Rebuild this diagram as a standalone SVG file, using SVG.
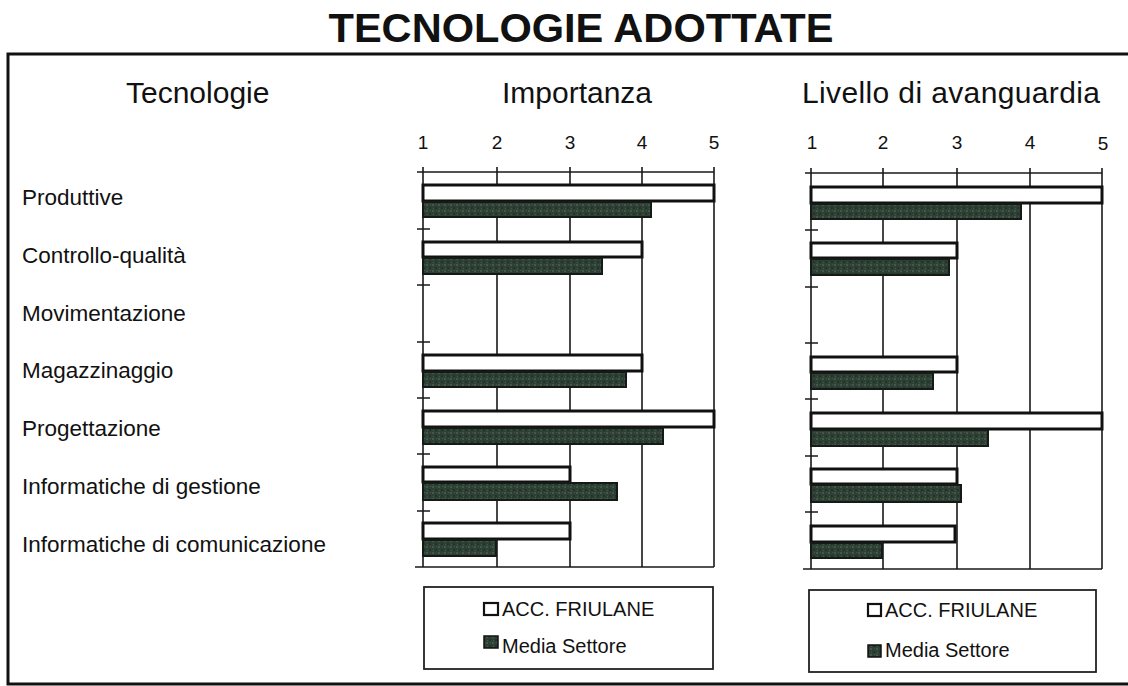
<svg xmlns="http://www.w3.org/2000/svg" width="1128" height="686" viewBox="0 0 1128 686">
<style>
text{font-family:"Liberation Sans",Arial,sans-serif;fill:#111}
.title{font-size:40px;font-weight:bold}
.hdr{font-size:30px}
.lbl{font-size:22.5px}
.num{font-size:19px;text-anchor:middle}
.leg{font-size:20px}
.grid{stroke:#1a1a1a;stroke-width:1.6;fill:none}
.wbar{fill:#fff;stroke:#111;stroke-width:3}
.dbar{fill:url(#tex);stroke:#141a16;stroke-width:2}
.box{fill:#fff;stroke:#222;stroke-width:1.8}
</style>
<defs>
<pattern id="tex" width="6" height="6" patternUnits="userSpaceOnUse">
<rect width="6" height="6" fill="#2e4034"/>
<rect x="0" y="0" width="2" height="2" fill="#44584a"/>
<rect x="3" y="3" width="2" height="2" fill="#23322a"/>
<rect x="4" y="0" width="1" height="1" fill="#56465e"/>
<rect x="1" y="4" width="1" height="1" fill="#2f6a3e"/>
</pattern>
</defs>
<rect width="1128" height="686" fill="#fff"/>
<text class="title" x="581" y="42" text-anchor="middle" textLength="505" lengthAdjust="spacingAndGlyphs">TECNOLOGIE ADOTTATE</text>
<path d="M1128,54 H8 V684 H1128" fill="none" stroke="#111" stroke-width="3"/>

<g id="headers">
<text class="hdr" x="126" y="103">Tecnologie</text>
<text class="hdr" x="577" y="103" text-anchor="middle">Importanza</text>
<text class="hdr" x="951" y="103" text-anchor="middle" textLength="298">Livello di avanguardia</text>
</g>

<g id="row-labels">
<text class="lbl" x="22" y="205">Produttive</text>
<text class="lbl" x="22" y="263">Controllo-qualità</text>
<text class="lbl" x="22" y="321">Movimentazione</text>
<text class="lbl" x="22" y="378">Magazzinaggio</text>
<text class="lbl" x="22" y="436">Progettazione</text>
<text class="lbl" x="22" y="494">Informatiche di gestione</text>
<text class="lbl" x="22" y="552">Informatiche di comunicazione</text>
</g>

<g id="chart-importanza">
<g class="axis">
<text class="num" x="423" y="149">1</text>
<text class="num" x="497" y="149">2</text>
<text class="num" x="570" y="149">3</text>
<text class="num" x="642" y="149">4</text>
<text class="num" x="714" y="149">5</text>
<path class="grid" d="M423,167 V567 M497,167 V567 M570,167 V567 M642,167 V567 M714,167 V567 M417,172 H714 M415,567 H714 M417,229 H430 M417,285 H430 M417,342 H430 M417,398 H430 M417,454 H430 M417,511 H430"/>
</g>
<g class="bars">
<rect class="wbar" x="423" y="185" width="291" height="16"/>
<rect class="dbar" x="423" y="202" width="228" height="15"/>
<rect class="wbar" x="423" y="242" width="219" height="15"/>
<rect class="dbar" x="423" y="258" width="179" height="16"/>
<rect class="wbar" x="423" y="355" width="219" height="16"/>
<rect class="dbar" x="423" y="372" width="203" height="15"/>
<rect class="wbar" x="423" y="411" width="291" height="16"/>
<rect class="dbar" x="423" y="428" width="240" height="16"/>
<rect class="wbar" x="423" y="467" width="147" height="15"/>
<rect class="dbar" x="423" y="483" width="194" height="17"/>
<rect class="wbar" x="423" y="523" width="147" height="16"/>
<rect class="dbar" x="423" y="540" width="73" height="16"/>
</g>
</g>

<g id="chart-avanguardia">
<g class="axis">
<text class="num" x="812" y="149">1</text>
<text class="num" x="883" y="149">2</text>
<text class="num" x="957" y="149">3</text>
<text class="num" x="1030" y="149">4</text>
<text class="num" x="1103" y="150">5</text>
<path class="grid" d="M811,168 V569 M883,168 V569 M957,168 V569 M1030,168 V569 M1102,168 V569 M805,173 H1102 M803,569 H1102 M805,230 H818 M805,287 H818 M805,343 H818 M805,399 H818 M805,456 H818 M805,512 H818"/>
</g>
<g class="bars">
<rect class="wbar" x="811" y="187" width="291" height="16"/>
<rect class="dbar" x="811" y="204" width="210" height="15"/>
<rect class="wbar" x="811" y="243" width="146" height="15"/>
<rect class="dbar" x="811" y="259" width="138" height="16"/>
<rect class="wbar" x="811" y="357" width="146" height="15"/>
<rect class="dbar" x="811" y="373" width="122" height="16"/>
<rect class="wbar" x="811" y="413" width="291" height="16"/>
<rect class="dbar" x="811" y="430" width="177" height="16"/>
<rect class="wbar" x="811" y="469" width="146" height="15"/>
<rect class="dbar" x="811" y="485" width="150" height="17"/>
<rect class="wbar" x="811" y="526" width="144" height="16"/>
<rect class="dbar" x="811" y="543" width="71" height="15"/>
</g>
</g>

<g id="legend-importanza">
<rect class="box" x="424" y="587" width="289" height="82"/>
<rect x="484" y="603" width="14" height="12" fill="#fff" stroke="#111" stroke-width="2.2"/>
<text class="leg" x="502" y="616">ACC. FRIULANE</text>
<rect x="484" y="636" width="14" height="12" fill="url(#tex)" stroke="#111" stroke-width="1.5"/>
<text class="leg" x="502" y="653">Media Settore</text>
</g>

<g id="legend-avanguardia">
<rect class="box" x="809" y="590" width="287" height="82"/>
<rect x="868" y="604" width="13" height="12" fill="#fff" stroke="#111" stroke-width="2.2"/>
<text class="leg" x="885" y="617">ACC. FRIULANE</text>
<rect x="868" y="645" width="13" height="12" fill="url(#tex)" stroke="#111" stroke-width="1.5"/>
<text class="leg" x="885" y="657">Media Settore</text>
</g>
</svg>
